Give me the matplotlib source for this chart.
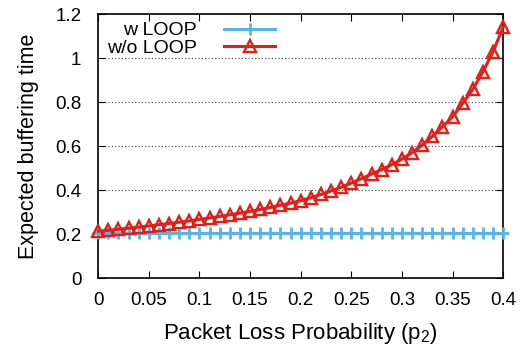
import numpy as np
import matplotlib
matplotlib.use('Agg')
import matplotlib.pyplot as plt

plt.rcParams['font.family'] = ['Liberation Sans', 'DejaVu Sans']
plt.rcParams['mathtext.fontset'] = 'custom'
plt.rcParams['mathtext.rm'] = 'Liberation Sans'

# datos
p2 = np.round(np.arange(0, 0.401, 0.01), 2)
con_loop = [0.207] * len(p2)
sin_loop = [0.213, 0.217, 0.222, 0.227, 0.232, 0.237, 0.243, 0.248, 0.254, 0.260,
            0.267, 0.273, 0.280, 0.288, 0.295, 0.303, 0.312, 0.321, 0.331, 0.341,
            0.352, 0.365, 0.380, 0.396, 0.413, 0.432, 0.452, 0.473, 0.493, 0.516,
            0.541, 0.570, 0.604, 0.644, 0.688, 0.733, 0.794, 0.858, 0.938, 1.029,
            1.142]
etiquetas = ['w LOOP', 'w/o LOOP']
xticks = [0, 0.05, 0.1, 0.15, 0.2, 0.25, 0.3, 0.35, 0.4]
yticks = [0, 0.2, 0.4, 0.6, 0.8, 1, 1.2]

fig = plt.figure(figsize=(5.22, 3.52), dpi=100)
ax = fig.add_axes([0.188, 0.21, 0.776, 0.75])

ax.plot(p2, con_loop, color='#56b4e9', lw=2.2, marker='+', ms=9, mew=2,
        label=etiquetas[0], clip_on=False, zorder=3)
ax.plot(p2, sin_loop, color='#e41e18', lw=2.2, marker='^', ms=9, mew=1.7,
        mfc='none', label=etiquetas[1], clip_on=False, zorder=4)

ax.set_xlim(0, 0.4)
ax.set_ylim(0, 1.2)
ax.set_xticks(xticks)
ax.set_xticklabels(['%g' % t for t in xticks])
ax.set_yticks(yticks)
ax.set_yticklabels(['%g' % t for t in yticks])
ax.tick_params(direction='in', top=True, right=True, labelsize=13.5, length=5)
ax.tick_params(axis='y', pad=12)
ax.tick_params(axis='x', pad=10)
for y in yticks[1:-1]:
    ax.axhline(y, color='0.25', lw=0.8, ls=(0, (1, 2)), zorder=0)
for s in ax.spines.values():
    s.set_linewidth(1.2)

ax.set_xlabel(r'Packet Loss Probability (p$_\mathregular{2}$)', fontsize=16,
              labelpad=9)
ax.set_ylabel('Expected buffering time', fontsize=15.5, labelpad=12)

ax.legend(loc='upper right', bbox_to_anchor=(0.465, 1.015), frameon=False,
          markerfirst=False, fontsize=14, handlelength=2.6, handletextpad=1.4,
          labelspacing=0.0, borderaxespad=0.2)

fig.savefig('out.png', dpi=100)
